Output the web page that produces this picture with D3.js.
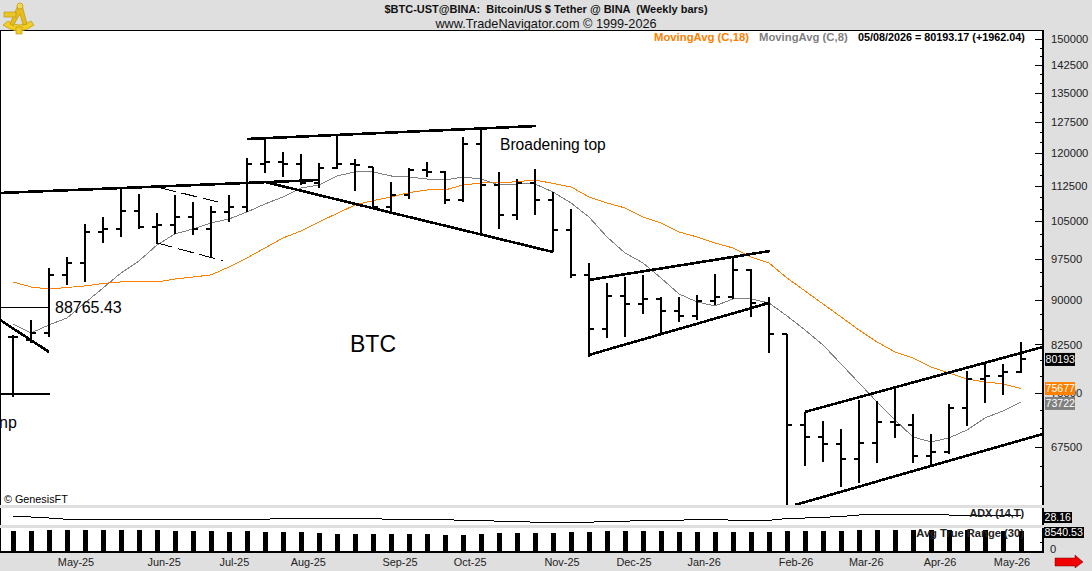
<!DOCTYPE html>
<html>
<head>
<meta charset="utf-8">
<script src="https://cdn.jsdelivr.net/npm/d3@7"></script>
<style>
    html, body { margin: 0; padding: 0; background: #dfdfdf; overflow: hidden; }
    svg { display: block; font-family: "Liberation Sans", Arial, sans-serif; }
    text { white-space: pre; }
</style>
</head>
<body>
<div id="chart"></div>
<script>
// weekly bars, first to last
const opens = [83720, 83230, 84380, 94525, 96770, 102820, 103420, 107130, 103830, 104240, 105880, 103420, 106925, 107980, 117455, 117915, 117455, 113170, 116540, 117455, 116770, 107980, 110540, 116000, 115630, 109460, 122130, 112730, 106300, 113170, 109460, 103220, 94525, 85040, 90720, 89310, 90180, 88090, 87235, 89830, 90540, 95450, 89480, 84215, 70480, 68840, 67905, 65940, 68040, 70895, 70480, 66330, 66850, 72860, 77115, 77570, 78231];
const highs = [84050, 86550, 95825, 97910, 104445, 105880, 112060, 110760, 106715, 110540, 109040, 108190, 110540, 118840, 123585, 120250, 119780, 117685, 124315, 118605, 116770, 113390, 116540, 117915, 115860, 123830, 126270, 115630, 114050, 116310, 111190, 107550, 96770, 93050, 94150, 94525, 90540, 90540, 90895, 94710, 97910, 95635, 90540, 84215, 72295, 71030, 69925, 74010, 73865, 75920, 72010, 69250, 73435, 78335, 79570, 79415, 82905];
const lows = [74450, 82745, 83720, 92690, 93235, 100630, 101820, 103420, 100435, 102420, 102220, 97910, 104850, 106925, 115405, 114500, 112725, 112060, 116305, 111410, 107760, 107130, 109675, 114500, 108615, 109040, 102220, 103420, 105260, 106300, 98875, 93965, 80510, 83560, 83720, 87580, 84050, 86215, 86550, 89135, 90180, 87065, 81145, 60000, 65045, 65555, 62425, 62915, 65430, 68705, 65430, 65170, 66590, 70340, 73580, 74740, 78030];
const closes = [83720, 84380, 94525, 96770, 102820, 103420, 107130, 103830, 104240, 105880, 103420, 106925, 107980, 117455, 117915, 117455, 113170, 116540, 117455, 117225, 107980, 110540, 116080, 115630, 109460, 122130, 112730, 106300, 113170, 109460, 103220, 94525, 85040, 90720, 89310, 90180, 88090, 87235, 89830, 90540, 95450, 89480, 84215, 70480, 68840, 67905, 65940, 68040, 70895, 70480, 66330, 66850, 72860, 77115, 77570, 78231, 80193.17];

const ma18 = [93236, 92328, 91964, 92236, 92510, 92963, 93236, 93236, 93236, 93782, 94153, 94525, 96013, 97718, 99649, 101618, 103022, 104853, 106612, 108400, 109315, 110108, 111038, 111625, 111625, 112726, 113169, 113169, 113460, 113832, 113059, 112279, 110108, 108825, 107762, 105881, 104649, 102822, 101820, 100630, 99649, 97911, 96769, 93967, 91608, 89307, 87064, 84875, 82907, 81302, 80350, 78948, 78030, 77114, 76667, 76373, 75677];
const ma8 = [85880, 84381, 85712, 86892, 89482, 92146, 94894, 97147, 100238, 102422, 103422, 104649, 105465, 106925, 108614, 110108, 112063, 112726, 114728, 115632, 115632, 114728, 114503, 114053, 113832, 114503, 114053, 112726, 112948, 112948, 111191, 108825, 105881, 101820, 98680, 96769, 93967, 91072, 89657, 88960, 90182, 90182, 89482, 87235, 84875, 82423, 79415, 76514, 73722, 71170, 68842, 68172, 68706, 69790, 71449, 72435, 73722];

const adx = [22.6, 22.6, 19.7, 16.1, 16.1, 16.1, 16.1, 16.1, 16.1, 16.1, 16.1, 16.1, 16.1, 16.1, 16.1, 18.9, 18.9, 18.9, 18.9, 18.9, 18.9, 14.9, 14.9, 14.9, 14.9, 13.3, 13.3, 10.4, 10.4, 7.6, 7.6, 7.6, 7.6, 10.4, 10.4, 13.3, 13.3, 13.3, 16.1, 16.1, 13.3, 13.3, 13.3, 18.3, 19.7, 21.7, 24, 28.2, 28.8, 29.6, 30.2, 29.6, 28.2, 28.2, 27.6, 27.4, 28.16];
const atr = [8540, 8540, 8950, 8950, 8950, 8950, 8950, 8950, 8950, 8540, 8540, 8540, 8130, 8540, 8130, 8130, 8130, 7730, 7320, 7320, 7320, 7320, 7320, 7320, 6910, 6910, 7320, 7730, 7730, 7730, 7730, 8130, 8130, 8540, 8540, 8540, 8540, 8130, 8130, 8130, 8130, 8130, 8130, 8540, 8540, 8540, 8540, 8950, 8950, 8950, 8950, 8950, 8950, 8950, 8950, 8540, 8540.53];

// hand drawn lines: [bar index, price, bar index, price]
const heavyLines = [
    [-0.72, 110974, 17, 113832],
    [13, 123339, 29.06, 126515],
    [14, 113390, 30, 98873],
    [32, 93600, 42.06, 99066],
    [32, 80829, 42, 89482],
    [44, 72294, 57.22, 82101],
    [43.44, 60268, 57.22, 69241],
    [-0.72, 86553, 2, 81303],
    [-0.72, 74885, 2.06, 74885]
];
const thinLines = [[-0.72, 88765.43, 2, 88765.43]];
const dashedLines = [
    [8.17, 112129, 11.65, 108763],
    [8, 100630, 11.65, 97204]
];

const majorTicks = [150000, 142500, 135000, 127500, 120000, 112500, 105000, 97500, 90000, 82500, 75000, 67500];
const minorTicks = [147500, 145000, 140000, 137500, 132500, 130000, 125000, 122500, 117500, 115000, 110000, 107500, 102500, 100000, 95000, 92500, 87500, 85000, 80000, 77500, 72500, 70000, 65000, 62500];

const monthLabels = ["May-25", "Jun-25", "Jul-25", "Aug-25", "Sep-25", "Oct-25", "Nov-25", "Dec-25", "Jan-26", "Feb-26", "Mar-26", "Apr-26", "May-26"];
const monthBars = [3.5, 8.4, 12.3, 16.4, 21.5, 25.4, 30.5, 34.5, 38.4, 43.5, 47.4, 51.5, 55.5];

const svgWidth = 1092;
const svgHeight = 571;
const plotRight = 1043;
const main = { top: 30, bottom: 505 };
const adxPanel = { top: 508, bottom: 525 };
const atrPanel = { top: 528, bottom: 552 };

const svg = d3.select("#chart")
    .append("svg")
    .attr("width", svgWidth)
    .attr("height", svgHeight);

svg.append("rect").attr("width", svgWidth).attr("height", svgHeight).attr("fill", "#dfdfdf");

[main, adxPanel, atrPanel].forEach(p => {
    svg.append("rect")
        .attr("x", 0).attr("y", p.top)
        .attr("width", plotRight).attr("height", p.bottom - p.top)
        .attr("fill", "white");
});

svg.append("defs").append("clipPath").attr("id", "mainClip")
    .append("rect")
    .attr("x", 0).attr("y", main.top)
    .attr("width", plotRight).attr("height", main.bottom - main.top);

const xScale = d3.scaleLinear().domain([0, 56]).range([13, 1021]);
const yScale = d3.scaleLog().domain([67500, 150000]).range([447, 39]);
const adxScale = d3.scaleLinear().domain([0, 48]).range([adxPanel.bottom, adxPanel.top]);
const atrScale = d3.scaleLinear().domain([0, 9760]).range([atrPanel.bottom, atrPanel.top]);

const idx = d3.range(closes.length);
const plot = svg.append("g").attr("clip-path", "url(#mainClip)");

// moving averages go under the bars
function addAverage(values, color) {
    const line = d3.line().x((d, i) => xScale(i)).y(d => yScale(d));
    plot.append("path")
        .attr("d", line(values))
        .attr("fill", "none")
        .attr("stroke", color)
        .attr("stroke-width", 1)
        .attr("shape-rendering", "crispEdges");
}
addAverage(ma18, "#ff8000");
addAverage(ma8, "#808080");

// ohlc bars
const bars = plot.append("g")
    .attr("stroke", "black")
    .attr("stroke-width", 2)
    .attr("shape-rendering", "crispEdges");

bars.selectAll(".hl").data(idx).enter().append("line")
    .attr("x1", i => xScale(i)).attr("x2", i => xScale(i))
    .attr("y1", i => yScale(highs[i])).attr("y2", i => yScale(lows[i]));
bars.selectAll(".op").data(idx).enter().append("line")
    .attr("x1", i => xScale(i) - 5).attr("x2", i => xScale(i))
    .attr("y1", i => yScale(opens[i])).attr("y2", i => yScale(opens[i]));
bars.selectAll(".cl").data(idx).enter().append("line")
    .attr("x1", i => xScale(i)).attr("x2", i => xScale(i) + 5)
    .attr("y1", i => yScale(closes[i])).attr("y2", i => yScale(closes[i]));

function addLines(data, width, dash) {
    plot.append("g").selectAll("line").data(data).enter().append("line")
        .attr("x1", d => xScale(d[0])).attr("y1", d => yScale(d[1]))
        .attr("x2", d => xScale(d[2])).attr("y2", d => yScale(d[3]))
        .attr("stroke", "black")
        .attr("stroke-width", width)
        .attr("stroke-dasharray", dash)
        .attr("shape-rendering", "crispEdges");
}
addLines(heavyLines, 2.6, null);
addLines(thinLines, 1, null);
addLines(dashedLines, 1, "16 6");

// notes on the chart
function note(x, y, str, size) {
    plot.append("text")
        .attr("x", x).attr("y", y)
        .attr("dy", "0.35em")
        .attr("font-size", size)
        .attr("fill", "#000")
        .text(str);
}
note(55, yScale(88765.43), "88765.43", 16);
note(350, 344, "BTC", 23);
note(500, 145, "Broadening top", 15.6);
note(-1, 422, "np", 16);
note(4, 499, "© GenesisFT", 10.8);

// adx panel
svg.append("path")
    .attr("d", d3.line().x((d, i) => xScale(i)).y(d => adxScale(d))(adx))
    .attr("fill", "none")
    .attr("stroke", "black")
    .attr("stroke-width", 1)
    .attr("shape-rendering", "crispEdges");

// atr panel
svg.append("g").selectAll("rect").data(atr).enter().append("rect")
    .attr("x", (d, i) => xScale(i) - 2)
    .attr("width", 5)
    .attr("y", d => atrScale(d))
    .attr("height", d => atrScale(0) - atrScale(d))
    .attr("fill", "black");

function panelLabel(x, y, str, size) {
    svg.append("text")
        .attr("x", x).attr("y", y)
        .attr("dy", "0.35em")
        .attr("text-anchor", "end")
        .attr("font-size", size)
        .attr("font-weight", "bold")
        .attr("fill", "#222")
        .text(str);
}
panelLabel(1024, 513, "ADX (14,T)", 10.8);
panelLabel(1024, 533, "Avg True Range (30)", 11.2);

// frame
const frame = svg.append("g").attr("shape-rendering", "crispEdges");
frame.append("line").attr("x1", 0).attr("x2", plotRight + 1).attr("y1", main.top).attr("y2", main.top)
    .attr("stroke", "black").attr("stroke-width", 1);
frame.append("line").attr("x1", 0).attr("x2", plotRight + 1).attr("y1", atrPanel.bottom).attr("y2", atrPanel.bottom)
    .attr("stroke", "black").attr("stroke-width", 2);
[main, adxPanel, atrPanel].forEach(p => {
    frame.append("line").attr("x1", 0.5).attr("x2", 0.5).attr("y1", p.top).attr("y2", p.bottom)
        .attr("stroke", "black").attr("stroke-width", 1);
    frame.append("line").attr("x1", plotRight).attr("x2", plotRight).attr("y1", p.top).attr("y2", p.bottom)
        .attr("stroke", "black").attr("stroke-width", 2);
});

// price axis on the right, ticks point into the plot
const yAxis = d3.axisRight(yScale)
    .tickValues(majorTicks)
    .tickSizeInner(-8)
    .tickSizeOuter(0)
    .tickPadding(8)
    .tickFormat(d3.format("d"));
const yAxisG = svg.append("g")
    .attr("transform", "translate(" + plotRight + ",0)")
    .call(yAxis);
yAxisG.select(".domain").remove();
yAxisG.selectAll("text").attr("font-size", 11.2).attr("font-family", "Liberation Sans").attr("fill", "#222");
yAxisG.selectAll("line").attr("shape-rendering", "crispEdges");

const yMinor = d3.axisLeft(yScale).tickValues(minorTicks).tickSizeInner(3).tickSizeOuter(0).tickFormat("");
const yMinorG = svg.append("g")
    .attr("transform", "translate(" + plotRight + ",0)")
    .call(yMinor);
yMinorG.select(".domain").remove();
yMinorG.selectAll("line").attr("shape-rendering", "crispEdges");

svg.append("line")
    .attr("x1", plotRight - 3).attr("x2", plotRight)
    .attr("y1", atrScale(4000)).attr("y2", atrScale(4000))
    .attr("stroke", "black")
    .attr("shape-rendering", "crispEdges");
svg.append("text")
    .attr("x", 1050).attr("y", 549)
    .attr("dy", "0.35em")
    .attr("font-size", 11.2)
    .attr("fill", "#222")
    .text("0");

// month labels
svg.append("g").selectAll("text").data(monthLabels).enter().append("text")
    .attr("x", (d, i) => xScale(monthBars[i]))
    .attr("y", 562)
    .attr("dy", "0.35em")
    .attr("text-anchor", "middle")
    .attr("font-size", 10.9)
    .attr("fill", "#222")
    .text(d => d);

// value tags
function tag(x, y, w, h, color, str) {
    svg.append("rect")
        .attr("x", x).attr("y", y)
        .attr("width", w).attr("height", h)
        .attr("fill", color);
    svg.append("text")
        .attr("x", x + 0.5).attr("y", y + h / 2)
        .attr("dy", "0.35em")
        .attr("font-size", 10.6)
        .attr("fill", "white")
        .text(str);
}
const tagLabel = d3.format(".0f");
tag(1045, yScale(closes[56]) - 6, 30, 13, "black", tagLabel(closes[56]));
tag(1045, yScale(ma18[56]) - 6.5, 30, 13, "#ff8000", tagLabel(ma18[56]));
tag(1045, yScale(ma8[56]) - 5, 30, 13, "#808080", tagLabel(ma8[56]));
tag(1044, 512, 28, 11, "black", "28.16");
tag(1044, 527, 40, 11, "black", "8540.53");

// header
svg.append("text")
    .attr("x", 546).attr("y", 9)
    .attr("dy", "0.35em")
    .attr("text-anchor", "middle")
    .attr("font-size", 11)
    .attr("font-weight", "bold")
    .attr("fill", "#111")
    .text("$BTC-UST@BINA:  Bitcoin/US $ Tether @ BINA  (Weekly bars)");
svg.append("text")
    .attr("x", 546).attr("y", 24)
    .attr("dy", "0.35em")
    .attr("text-anchor", "middle")
    .attr("font-size", 12.7)
    .attr("fill", "#111")
    .text("www.TradeNavigator.com © 1999-2026");

// legend row
function legend(x, str, color, size) {
    svg.append("text")
        .attr("x", x).attr("y", 37)
        .attr("dy", "0.35em")
        .attr("font-size", size)
        .attr("font-weight", "bold")
        .attr("fill", color)
        .text(str);
}
legend(654, "MovingAvg (C,18)", "#ff8000", 11.3);
legend(759, "MovingAvg (C,8)", "#808080", 11.3);
legend(858, "05/08/2026 = 80193.17 (+1962.04)", "black", 10.8);

// red arrow bottom right
svg.append("path")
    .attr("d", "M1055,558H1075V555L1083,562L1075,568V566H1055Z")
    .attr("fill", "#f00000")
    .attr("stroke", "#700")
    .attr("stroke-width", 0.5);

// sextant logo
const logo = svg.append("g").attr("stroke", "#b58f00").attr("stroke-width", 0.6);
logo.append("path").attr("d", "M3,25L8,21Q19,29 31,21L34,25Q19,37 3,25Z").attr("fill", "#f2cd2a");
logo.append("path").attr("d", "M18,5L22,5L27,24L23,25L20,14L13,26L10,24Z").attr("fill", "#e6bc18");
logo.append("rect").attr("x", 4).attr("y", 12).attr("width", 12).attr("height", 5).attr("fill", "#ecc52a");
logo.append("rect").attr("x", 16).attr("y", 27).attr("width", 6).attr("height", 7).attr("fill", "#f2cd2a");
logo.append("circle").attr("cx", 20).attr("cy", 6).attr("r", 3).attr("fill", "#f5d850");
</script>
</body>
</html>
